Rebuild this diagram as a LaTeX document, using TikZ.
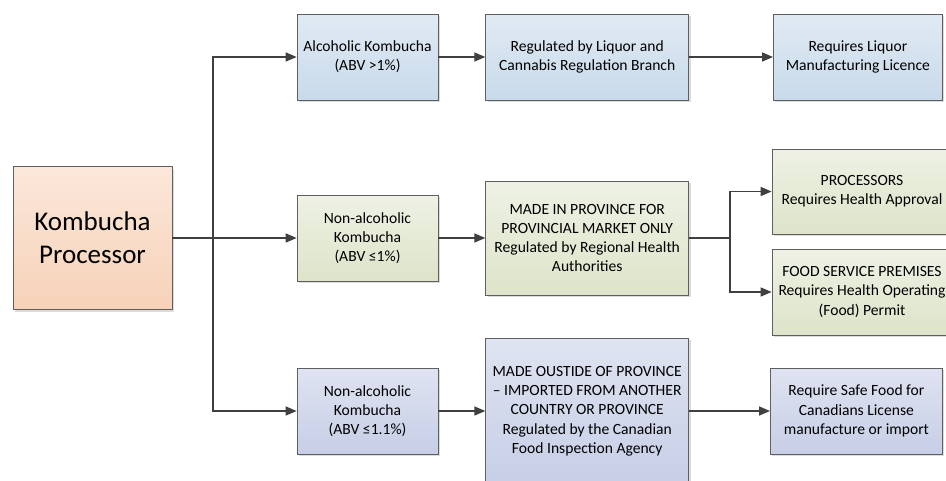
\documentclass[tikz,border=0pt]{standalone}
\usepackage{fontspec}
\setmainfont{Carlito}
\usepackage{xcolor}
\usetikzlibrary{arrows.meta,positioning,shadows}
\definecolor{lineGray}{HTML}{404040}
\definecolor{edgeGray}{HTML}{5F5F5F}
\definecolor{peachTop}{HTML}{FBE7DA}
\definecolor{peachBot}{HTML}{F6D2B8}
\definecolor{blueTop}{HTML}{E1EAF3}
\definecolor{blueBot}{HTML}{C8DAEB}
\definecolor{greenTop}{HTML}{EEF1E4}
\definecolor{greenBot}{HTML}{DDE4C9}
\definecolor{lilacTop}{HTML}{DFE3F1}
\definecolor{lilacBot}{HTML}{C7CEE6}

\begin{document}
\begin{tikzpicture}[
  x=1pt,y=-1pt,
  box/.style={draw=edgeGray,line width=0.7pt,align=center,inner sep=0pt,
    font=\fontsize{15.6}{19.3}\selectfont,
    drop shadow={shadow xshift=2pt,shadow yshift=-2pt,fill=black!30,opacity=.45}},
  source/.style={box,top color=peachTop,bottom color=peachBot,
    minimum width=159pt,minimum height=143pt,font=\fontsize{27}{33}\selectfont},
  liquor/.style={box,top color=blueTop,bottom color=blueBot,minimum height=86pt},
  health/.style={box,top color=greenTop,bottom color=greenBot,minimum height=86pt},
  federal/.style={box,top color=lilacTop,bottom color=lilacBot,minimum height=86pt},
  arrow/.style={-{Triangle[length=11pt,width=9pt]},line width=1.5pt,draw=lineGray},
  link/.style={line width=1.5pt,draw=lineGray}
]
\useasboundingbox (0,0) rectangle (946,480);
\clip (0,0) rectangle (946,480);
\fill[white] (0,0) rectangle (946,480);

% first column
\node[source] (proc) at (92.5,238) {Kombucha\\Processor};

% second column
\node[liquor,minimum width=141pt] (alc) at (367.5,57) {Alcoholic Kombucha\\(ABV >1\%)};
\node[health,minimum width=141pt] (nonalc) at (367.5,238) {Non-alcoholic\\Kombucha\\(ABV ≤1\%)};
\node[federal,minimum width=141pt] (nonimp) at (367.5,411) {Non-alcoholic\\Kombucha\\(ABV ≤1.1\%)};

% third column
\node[liquor,minimum width=203pt,right=47pt of alc] (lcrb) {Regulated by Liquor and\\Cannabis Regulation Branch};
\node[health,minimum width=203pt,minimum height=114pt,right=47pt of nonalc] (prov) {MADE IN PROVINCE FOR\\PROVINCIAL MARKET ONLY\\Regulated by Regional Health\\Authorities};
\node[federal,minimum width=203pt,minimum height=146pt,right=47pt of nonimp] (import) {MADE OUSTIDE OF PROVINCE\\– IMPORTED FROM ANOTHER\\COUNTRY OR PROVINCE\\Regulated by the Canadian\\Food Inspection Agency};

% fourth column
\node[liquor,minimum width=169pt,right=84pt of lcrb] (licence) {Requires Liquor\\Manufacturing Licence};
\node[health,minimum width=180pt,minimum height=85pt] (procs) at (862,191.5) {PROCESSORS\\Requires Health Approval};
\node[health,minimum width=180pt] (foodserv) at (862,292) {FOOD SERVICE PREMISES\\Requires Health Operating\\(Food) Permit};
\node[federal,minimum width=172pt,right=81pt of import] (sfcl) {Require Safe Food for\\Canadians License\\manufacture or import};

% connectors
\coordinate (trunk) at (213,238);
\coordinate (fork) at (730,238);
\draw[link] (proc.east) -- (trunk);
\draw[arrow] (trunk) |- (alc.west);
\draw[arrow] (trunk) -- (nonalc.west);
\draw[arrow] (trunk) |- (nonimp.west);
\draw[arrow] (alc) -- (lcrb);
\draw[arrow] (nonalc) -- (prov);
\draw[arrow] (nonimp) -- (import);
\draw[arrow] (lcrb) -- (licence);
\draw[link] (prov.east) -- (fork);
\draw[arrow] (fork) |- (procs.west);
\draw[arrow] (fork) |- (foodserv.west);
\draw[arrow] (import) -- (sfcl);
\end{tikzpicture}
\end{document}
